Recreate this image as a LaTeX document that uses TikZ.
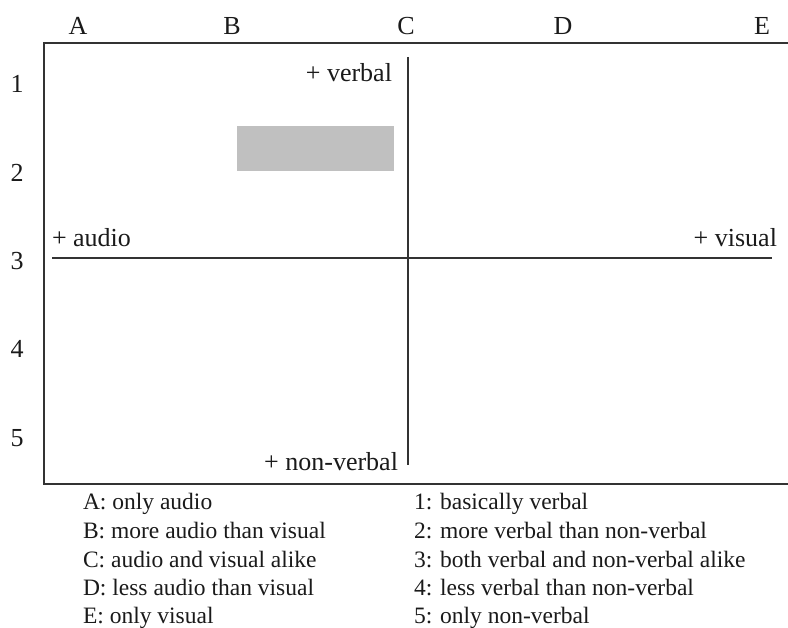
\documentclass[tikz,border=0pt]{standalone}
\usepackage{fontspec}
\setmainfont{Liberation Serif}
\definecolor{ink}{HTML}{1A1A1A}
\definecolor{linec}{HTML}{333333}
\definecolor{boxgray}{HTML}{C0C0C0}
\begin{document}
\begin{tikzpicture}[x=1pt,y=-1pt,
  lbl/.style={inner sep=0pt,outer sep=0pt,text=ink,font=\fontsize{26}{30}\selectfont},
  leg/.style={inner sep=0pt,outer sep=0pt,text=ink,anchor=base west,font=\fontsize{23.5}{28}\selectfont},
  frame/.style={draw=linec,line width=2pt},
  axis/.style={draw=linec,line width=2pt}]
\useasboundingbox (0,0) rectangle (788,628);
% frame
\coordinate (tl) at (44,43);
\coordinate (tr) at (788,43);
\coordinate (bl) at (44,484);
\coordinate (br) at (788,484);
\draw[frame] (tr) -- (tl) -- (bl) -- (br);
% axes
\coordinate (hl) at (52,258);
\coordinate (hr) at (772,258);
\coordinate (vt) at (408,57);
\coordinate (vb) at (408,465);
\draw[axis] (hl) -- (hr);
\draw[axis] (vt) -- (vb);
% gray box
\fill[boxgray] (237,126) rectangle (394,171);
% column letters
\node[lbl,anchor=base] (cA) at (78,35) {A};
\node[lbl,anchor=base] (cB) at (232,35) {B};
\node[lbl,anchor=base] (cC) at (406,35) {C};
\node[lbl,anchor=base] (cD) at (563,35) {D};
\node[lbl,anchor=base] (cE) at (762,35) {E};
% row numbers
\node[lbl,anchor=base] (r1) at (17,93) {1};
\node[lbl,anchor=base] (r2) at (17,182) {2};
\node[lbl,anchor=base] (r3) at (17,270) {3};
\node[lbl,anchor=base] (r4) at (17,358) {4};
\node[lbl,anchor=base] (r5) at (17,447) {5};
% axis labels
\node[lbl,anchor=base east] (verbal) at (392,82) {+ verbal};
\node[lbl,anchor=base east] (nonverbal) at (398,471) {+ non-verbal};
\node[lbl,anchor=base west] (audio) at (52,247) {+ audio};
\node[lbl,anchor=base east] (visual) at (777,247) {+ visual};
% legend
\node[leg] (la) at (83,510) {A: only audio};
\node[leg] (lb) at (83,538) {B: more audio than visual};
\node[leg] (lc) at (83,567) {C: audio and visual alike};
\node[leg] (ld) at (83,595) {D: less audio than visual};
\node[leg] (le) at (83,623) {E: only visual};
\node[leg] (l1) at (414,510) {1: basically verbal};
\node[leg] (l2) at (414,538) {2: more verbal than non-verbal};
\node[leg] (l3) at (414,567) {3: both verbal and non-verbal alike};
\node[leg] (l4) at (414,595) {4: less verbal than non-verbal};
\node[leg] (l5) at (414,623) {5: only non-verbal};
\end{tikzpicture}
\end{document}
